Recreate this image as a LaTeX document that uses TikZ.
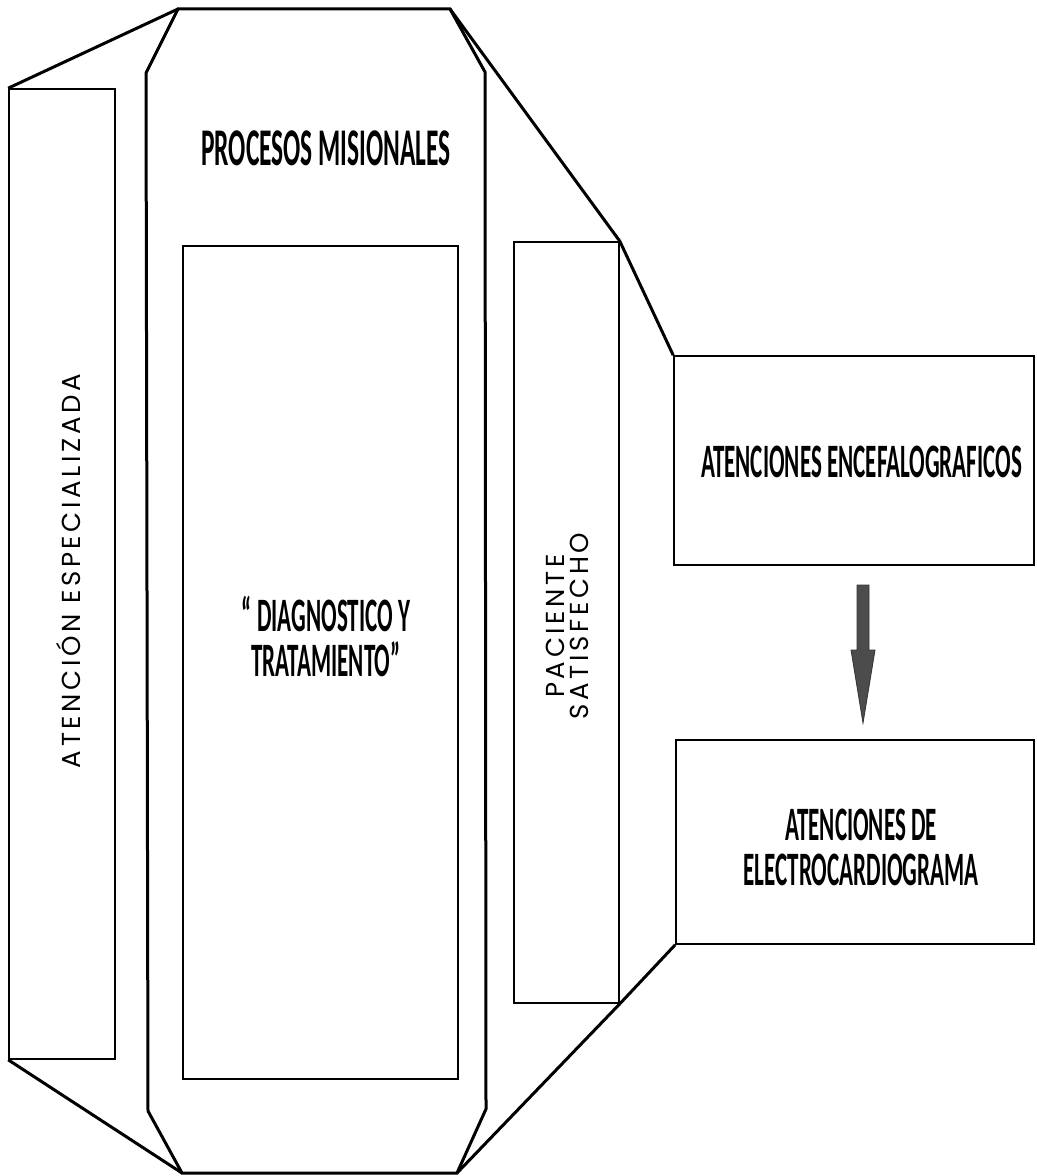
\documentclass[tikz,border=0pt]{standalone}
\usepackage{fontspec}
\newfontfamily\cond{Carlito}[FakeStretch=0.48]
\newfontfamily\geo{Poppins}[LetterSpace=14]
\begin{document}
\begin{tikzpicture}[x=0.5pt,y=-0.5pt,
  thick line/.style={line width=1.5pt, line join=miter},
  thinbox/.style={draw, line width=0.8pt, inner sep=0pt, rectangle},
  boldtxt/.style={font=\cond\bfseries\fontsize{24}{22.5}\selectfont, align=center, inner sep=0pt},
  geotxt/.style={font=\geo\fontsize{13}{12}\selectfont, align=center, inner sep=0pt, rotate=90}]
\useasboundingbox (0,0) rectangle (1037,1176);
% rectangles
\node[thinbox, minimum width=53pt, minimum height=485pt] (left) at (62,574) {};
\node[thinbox, minimum width=137.5pt, minimum height=416.5pt] (inner) at (320.5,662.5) {};
\node[thinbox, minimum width=52.5pt, minimum height=380.5pt] (pac) at (566.5,622.5) {};
\node[thinbox, minimum width=180pt, minimum height=104.5pt] (encef) at (854,460.5) {};
\node[thinbox, minimum width=179pt, minimum height=102pt] (electro) at (855,842) {};
% octagon
\coordinate (o1) at (178,9);
\coordinate (o2) at (450,9);
\coordinate (o3) at (485,72);
\coordinate (o4) at (486,1109);
\coordinate (o5) at (457,1173);
\coordinate (o6) at (182,1173);
\coordinate (o7) at (148,1111);
\coordinate (o8) at (146,73);
\draw[thick line] (o1) -- (o2) -- (o3) -- (o4) -- (o5) -- (o6) -- (o7) -- (o8) -- cycle;
% outer lines
\draw[thick line] (left.north west) -- (o1);
\draw[thick line] (left.south west) -- (o6);
\draw[thick line] (o2) -- (pac.north east) -- (encef.north west);
\draw[thick line] (o5) -- (pac.south east) -- (electro.south west);
% arrow
\coordinate (ab) at (863,723);
\filldraw[fill=black!70, draw=black!80, line width=0.4pt]
  (857,585) -- (869,585) -- (869,650) -- (875,650) -- (ab) -- (851,650) -- (857,650) -- cycle;
% texts
\node[boldtxt, font=\cond\bfseries\fontsize{26.5}{28}\selectfont] (proc) at (326,148) {PROCESOS MISIONALES};
\node[boldtxt] (diag) at (326,636) {\char"201C\ DIAGNOSTICO Y\\TRATAMIENTO\char"201D};
\node[boldtxt] (enct) at (861.5,461.5) {ATENCIONES ENCEFALOGRAFICOS};
\node[boldtxt] (elct) at (861,847) {ATENCIONES DE\\ELECTROCARDIOGRAMA};
\node[geotxt] (aesp) at (69,571) {ATENCIÓN ESPECIALIZADA};
\node[geotxt] (pact) at (567,626) {PACIENTE\\SATISFECHO};
\end{tikzpicture}
\end{document}
